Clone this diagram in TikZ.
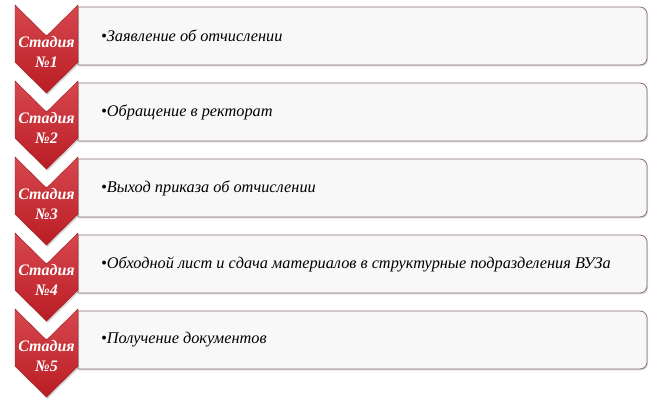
\documentclass[tikz,border=0pt]{standalone}
\usepackage{fontspec}
\setmainfont{Liberation Serif}
\usetikzlibrary{shadows}

\definecolor{stagered}{RGB}{186,28,36}
\definecolor{stagelight}{RGB}{214,72,78}
\definecolor{boxfill}{RGB}{248,248,248}
\definecolor{boxline}{RGB}{140,108,114}

\tikzset{
	chevron/.style={top color=stagelight,bottom color=stagered,draw=stagered!85!black,line width=.4pt,
		drop shadow={opacity=.35,shadow xshift=1pt,shadow yshift=-2pt}},
	stagebox/.style={fill=boxfill,draw=boxline,line width=.8pt,
		drop shadow={opacity=.3,shadow xshift=1pt,shadow yshift=-1.5pt}},
	stagelabel/.style={text=white,font=\bfseries\itshape\fontsize{16}{20}\selectfont,align=center,inner sep=0pt},
	steptext/.style={anchor=west,font=\itshape\fontsize{16.3}{19}\selectfont,inner sep=0pt}
}

\begin{document}
\begin{tikzpicture}[x=1pt,y=1pt]
		\useasboundingbox (0,0) rectangle (655,411);
		\foreach \i/\txt in {1/Заявление об отчислении,
			2/Обращение в ректорат,
			3/Выход приказа об отчислении,
			4/Обходной лист и сдача материалов в структурные подразделения ВУЗа,
			5/Получение документов}
		{
		\pgfmathsetmacro\t{404-76*(\i-1)}
		\pgfmathsetmacro\c{406-76*(\i-1)}
		% box
		\draw[stagebox] (78,\t) -- (640,\t) arc[start angle=90,end angle=0,radius=7]
			-- (647,\t-51) arc[start angle=0,end angle=-90,radius=7] -- (78,\t-58) -- cycle;
		\node[steptext] (text\i) at (101,\t-29) {\textbullet\txt};
		% chevron
		\draw[chevron] (15,\c) -- (46.5,\c-31) -- (78,\c) -- (78,\c-57)
			-- (46.5,\c-88) -- (15,\c-57) -- cycle;
		\node[stagelabel] (stage\i) at (46.5,\c-47) {Стадия\\№\i};
		}
	    \end{tikzpicture}
\end{document}
